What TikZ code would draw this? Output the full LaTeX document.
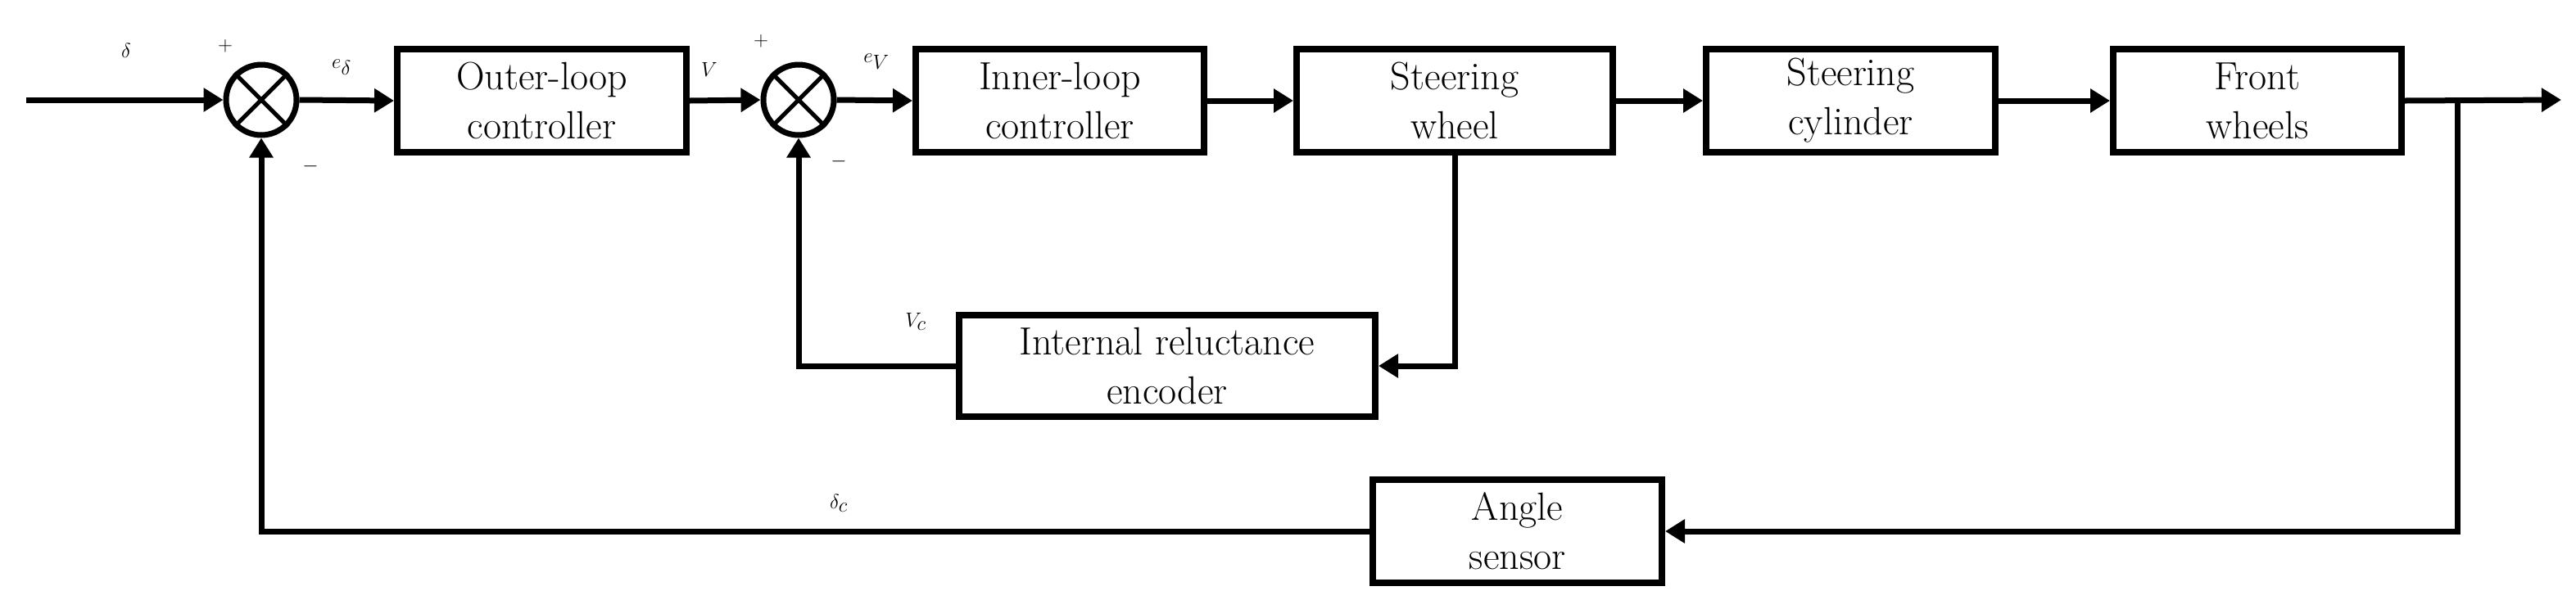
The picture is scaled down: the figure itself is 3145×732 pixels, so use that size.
\documentclass[tikz,border=0pt]{standalone}
\usetikzlibrary{arrows.meta}
\begin{document}
\begin{tikzpicture}[x=1pt,y=-1pt,line width=7pt,
  blk/.style={draw,rectangle,line width=8pt,align=center,inner sep=0pt,font=\fontsize{48}{60}\selectfont},
  sum/.style={draw,circle,minimum size=86pt,inner sep=0pt,line width=7pt},
  lbl/.style={font=\fontsize{50}{60}\selectfont,inner sep=0pt},
  arr/.style={-{Triangle[length=24pt,width=28pt]}}]
\useasboundingbox (0,0) rectangle (3145,732);
\node[sum] (s1) at (319,122) {};
\node[sum] (s2) at (975,122) {};
\foreach \s in {s1,s2}{
  \draw[line width=5pt] (\s.north west) -- (\s.south east) (\s.north east) -- (\s.south west);}
\node[blk,minimum width=353pt,minimum height=126pt] (outer) at (661.5,123) {Outer-loop\\controller};
\node[blk,minimum width=352pt,minimum height=126pt] (inner) at (1294,123) {Inner-loop\\controller};
\node[blk,minimum width=386pt,minimum height=126pt] (sw) at (1776,123) {Steering\\wheel};
\node[blk,minimum width=353pt,minimum height=126pt] (sc) at (2259.5,123) {Steering\\cylinder};
\node[blk,minimum width=352pt,minimum height=126pt] (fw) at (2756,123) {Front\\wheels};
\node[blk,minimum width=508pt,minimum height=124pt] (enc) at (1425,447) {Internal reluctance\\encoder};
\node[blk,minimum width=353pt,minimum height=126pt] (ang) at (1852.5,649) {Angle\\sensor};
\coordinate (in) at (32,122);
\coordinate (out) at (3127,122);
\coordinate (br) at (3000,122);
\draw[arr] (in) -- (s1.west);
\draw[arr] (s1.east) -- (outer.west);
\draw[arr] (outer.east) -- (s2.west);
\draw[arr] (s2.east) -- (inner.west);
\draw[arr] (inner.east) -- (sw.west);
\draw[arr] (sw.east) -- (sc.west);
\draw[arr] (sc.east) -- (fw.west);
\draw[arr] (fw.east) -- (out);
\draw[arr] (br) |- (ang.east);
\draw[arr] (ang.west) -| (s1.south);
\draw[arr] (sw.south) |- (enc.east);
\draw[arr] (enc.west) -| (s2.south);
\node[lbl] at (154,62) {$\delta$};
\node[lbl] at (275,56) {$+$};
\node[lbl] at (379,203) {$-$};
\node[lbl] at (417,82) {$e_\delta$};
\node[lbl] at (866,85) {$V$};
\node[lbl] at (929,50) {$+$};
\node[lbl] at (1024,197) {$-$};
\node[lbl] at (1070,75) {$e_V$};
\node[lbl] at (1118,393) {$V_c$};
\node[lbl] at (1024,615) {$\delta_c$};
\end{tikzpicture}
\end{document}
